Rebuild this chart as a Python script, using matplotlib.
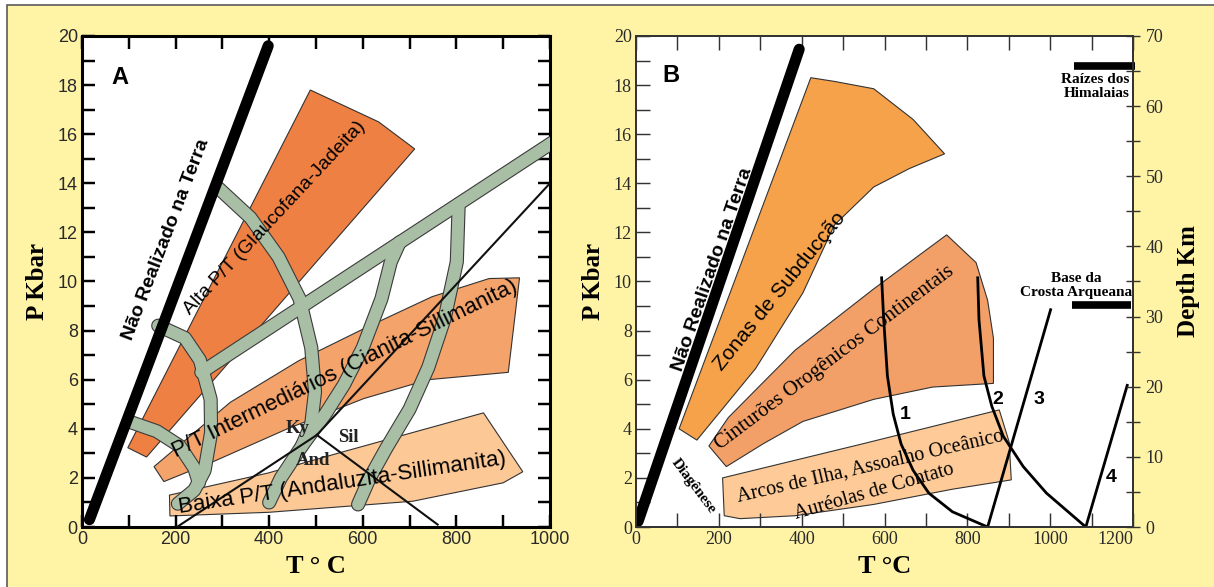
import matplotlib.pyplot as plt
from matplotlib.patches import Rectangle
from matplotlib.ticker import MultipleLocator

SANS = 'Liberation Sans'
SERIF = 'Liberation Serif'

# ---------------- painel A ----------------
limite_a_T = [16, 398]
limite_a_P = [0.3, 19.6]

alta_T = [98, 138, 711, 634, 561, 488]
alta_P = [3.23, 2.85, 15.4, 16.5, 17.15, 17.8]

inter_T = [154, 317, 463, 610, 748, 870, 935, 911, 740, 602, 439, 285, 175]
inter_P = [2.46, 5.08, 6.77, 8.15, 9.38, 10.12, 10.15, 6.3, 6.0, 5.23, 4.0, 2.7, 1.85]

baixa_T = [187, 188, 400, 707, 900, 942, 858, 764, 561, 398]
baixa_P = [1.3, 0.45, 0.6, 1.05, 1.8, 2.25, 4.65, 4.15, 3.08, 2.2]

# faixas verdes (isógradas)
diag_T = [255, 1010]
diag_P = [6.3, 15.72]
arco_alto_T = [289, 360, 420, 465, 490, 498, 490, 470]
arco_alto_P = [13.85, 12.6, 11.0, 9.3, 7.3, 5.5, 4.2, 3.3]
arco_medio_T = [163, 220, 252, 275, 276, 262, 240, 205]
arco_medio_P = [8.2, 7.7, 6.8, 5.2, 3.85, 2.3, 1.5, 0.95]
arco_baixo_T = [103, 160, 209, 240, 250]
arco_baixo_P = [4.28, 3.9, 3.3, 2.4, 1.8]
desc1_T = [679, 660, 640, 600, 560, 520, 470, 425, 400]
desc1_P = [11.6, 10.8, 9.3, 7.3, 5.8, 4.6, 3.3, 2.0, 1.0]
desc2_T = [805, 801, 775, 740, 700, 650, 615, 590]
desc2_P = [13.15, 10.8, 8.5, 6.5, 4.8, 3.2, 2.0, 0.92]

# ponto triplo Al2SiO5
ky_and_T = [203, 502]
ky_and_P = [0.0, 3.75]
ky_sil_T = [502, 1000]
ky_sil_P = [3.75, 14.0]
and_sil_T = [502, 760]
and_sil_P = [3.75, 0.1]

# ---------------- painel B ----------------
limite_b_T = [5, 394]
limite_b_P = [0.23, 19.46]

zonas_T = [104, 147, 289, 403, 479, 574, 660, 745, 669, 574, 479, 422]
zonas_P = [4.0, 3.54, 6.46, 9.54, 12.3, 13.85, 14.6, 15.2, 16.6, 17.85, 18.15, 18.3]

cint_T = [176, 218, 308, 403, 574, 716, 863, 863, 849, 821, 750, 574, 384, 223]
cint_P = [3.3, 2.46, 3.4, 4.3, 5.2, 5.7, 5.85, 7.69, 9.23, 10.77, 11.9, 9.7, 7.2, 4.46]

arcos_T = [209, 213, 251, 384, 574, 764, 906, 901, 877, 550]
arcos_P = [2.0, 0.46, 0.34, 0.46, 0.92, 1.54, 1.92, 3.46, 4.77, 3.4]

geo1_T = [593, 598, 607, 621, 640, 669, 707, 764, 849]
geo1_P = [10.15, 8.46, 6.15, 4.6, 3.38, 2.31, 1.38, 0.62, 0.0]
geo2_T = [825, 828, 840, 859, 887, 935, 991, 1086]
geo2_P = [10.15, 8.46, 6.15, 4.92, 3.69, 2.46, 1.38, 0.0]
geo3_T = [849, 1001]
geo3_P = [0.0, 8.85]
geo4_T = [1086, 1186]
geo4_P = [0.0, 5.77]

himalaia_T = [1058, 1205]
himalaia_P = [18.77, 18.77]
arqueana_T = [1053, 1195]
arqueana_P = [9.06, 9.06]


def estilo_eixo(ax, xmax, cor, lw_frame, fonte, tick_len):
    ax.set_xlim(0, xmax)
    ax.set_ylim(0, 20)
    ax.set_facecolor('white')
    ax.xaxis.set_major_locator(MultipleLocator(200))
    ax.xaxis.set_minor_locator(MultipleLocator(100))
    ax.yaxis.set_major_locator(MultipleLocator(2))
    ax.yaxis.set_minor_locator(MultipleLocator(1))
    for s in ax.spines.values():
        s.set_linewidth(lw_frame)
        s.set_color(cor)
    ax.tick_params(which='both', direction='in', length=tick_len, width=lw_frame * 0.8,
                   color=cor, labelsize=13, labelcolor='#2a2a2a', pad=3)
    for lab in ax.get_xticklabels() + ax.get_yticklabels():
        lab.set_family(fonte)


def faixas(ax, bandas):
    for T, P in bandas:
        ax.plot(T, P, color='#3a3a3a', lw=10.2, solid_capstyle='round', solid_joinstyle='round', zorder=3)
    for T, P in bandas:
        ax.plot(T, P, color='#A9BFA5', lw=8.6, solid_capstyle='round', solid_joinstyle='round', zorder=3.1)


fig = plt.figure(figsize=(12.14, 5.87), dpi=100)
fig.patch.set_facecolor('white')
fig.add_artist(Rectangle((0.0055, -0.05), 1.1, 1.0415, transform=fig.transFigure,
                         facecolor='#FFF4A6', edgecolor='#5a5a5a', lw=1.2, zorder=-10))

# ---------------- A ----------------
axA = fig.add_axes([0.0675, 0.1022, 0.3855, 0.8365])
estilo_eixo(axA, 1000, 'black', 2.2, SANS, 9)
axA.tick_params(which='both', top=True, right=True)

axA.fill(alta_T, alta_P, facecolor='#EF8043', edgecolor='#333333', lw=0.8, zorder=1)
axA.fill(inter_T, inter_P, facecolor='#F4A36B', edgecolor='#333333', lw=0.8, zorder=1)
axA.fill(baixa_T, baixa_P, facecolor='#FCC896', edgecolor='#333333', lw=0.8, zorder=1)

faixas(axA, [(diag_T, diag_P), (arco_alto_T, arco_alto_P), (arco_medio_T, arco_medio_P),
             (arco_baixo_T, arco_baixo_P), (desc1_T, desc1_P), (desc2_T, desc2_P)])

axA.plot(ky_and_T, ky_and_P, color='#111111', lw=1.5, zorder=4)
axA.plot(ky_sil_T, ky_sil_P, color='#111111', lw=1.5, zorder=4)
axA.plot(and_sil_T, and_sil_P, color='#111111', lw=1.5, zorder=4)
axA.plot(limite_a_T, limite_a_P, color='black', lw=8, solid_capstyle='round', zorder=5)

axA.text(81, 18.3, 'A', family=SANS, weight='bold', fontsize=17, ha='center', va='center')
axA.text(179, 11.7, 'Não Realizado na Terra', family=SANS, weight='bold', fontsize=14,
         rotation=69, rotation_mode='anchor', ha='center', va='center', zorder=6)
axA.text(411, 12.6, 'Alta P/T (Glaucofana-Jadeita)', family=SANS, fontsize=14,
         rotation=47, rotation_mode='anchor', ha='center', va='center', zorder=6)
axA.text(562, 6.45, 'P/T Intermediários (Cianita-Sillimanita)', family=SANS, fontsize=16,
         rotation=26, rotation_mode='anchor', ha='center', va='center', zorder=6)
axA.text(557, 1.8, 'Baixa P/T (Andaluzita-Sillimanita)', family=SANS, fontsize=16,
         rotation=8.5, rotation_mode='anchor', ha='center', va='center', zorder=6)
axA.text(460, 4.0, 'Ky', family=SERIF, weight='bold', fontsize=13.5, color='#222222',
         ha='center', va='center', zorder=6)
axA.text(570, 3.65, 'Sil', family=SERIF, weight='bold', fontsize=13.5, color='#222222',
         ha='center', va='center', zorder=6)
axA.text(494, 2.7, 'And', family=SERIF, weight='bold', fontsize=13.5, color='#222222',
         ha='center', va='center', zorder=6)

axA.set_xlabel('T ° C', family=SERIF, weight='bold', fontsize=19, labelpad=5)
axA.set_ylabel('P Kbar', family=SERIF, weight='bold', fontsize=18, labelpad=6)

# ---------------- B ----------------
axB = fig.add_axes([0.5239, 0.1022, 0.4094, 0.8365])
estilo_eixo(axB, 1200, '#333333', 1.3, SERIF, 10)
axB.tick_params(which='both', top=True, right=False)

axB.fill(zonas_T, zonas_P, facecolor='#F5A24B', edgecolor='#333333', lw=0.8, zorder=1)
axB.fill(cint_T, cint_P, facecolor='#F2A068', edgecolor='#333333', lw=0.8, zorder=1)
axB.fill(arcos_T, arcos_P, facecolor='#FDCA98', edgecolor='#333333', lw=0.8, zorder=1)

for T, P in [(geo1_T, geo1_P), (geo2_T, geo2_P), (geo3_T, geo3_P), (geo4_T, geo4_P)]:
    axB.plot(T, P, color='black', lw=2, zorder=4)
axB.plot(limite_b_T, limite_b_P, color='black', lw=8, solid_capstyle='round', zorder=5)
axB.plot(himalaia_T, himalaia_P, color='black', lw=5.5, solid_capstyle='butt', zorder=5, clip_on=False)
axB.plot(arqueana_T, arqueana_P, color='black', lw=5.5, solid_capstyle='butt', zorder=5)

axB.text(85, 18.4, 'B', family=SANS, weight='bold', fontsize=17, ha='center', va='center')
axB.text(185, 10.5, 'Não Realizado na Terra', family=SANS, weight='bold', fontsize=14,
         rotation=71, rotation_mode='anchor', ha='center', va='center', zorder=6)
axB.text(346, 9.6, 'Zonas de Subducção', family=SANS, fontsize=15,
         rotation=51, rotation_mode='anchor', ha='center', va='center', zorder=6)
axB.text(479, 6.9, 'Cinturões Orogênicos Continentais', family=SERIF, fontsize=15,
         rotation=37, rotation_mode='anchor', ha='center', va='center', zorder=6)
axB.text(565, 2.45, 'Arcos de Ilha, Assoalho Oceânico', family=SERIF, fontsize=14.5,
         rotation=13, rotation_mode='anchor', ha='center', va='center', zorder=6)
axB.text(574, 1.45, 'Auréolas de Contato', family=SERIF, fontsize=14.5,
         rotation=16, rotation_mode='anchor', ha='center', va='center', zorder=6)
axB.text(140, 1.65, 'Diagênese', family=SERIF, weight='bold', fontsize=11,
         rotation=-53, rotation_mode='anchor', ha='center', va='center', zorder=6)
for lab, T, P in [('1', 650, 4.6), ('2', 873, 5.2), ('3', 972, 5.2), ('4', 1148, 2.0)]:
    axB.text(T, P, lab, family=SANS, weight='bold', fontsize=14, ha='center', va='center', zorder=6)
axB.text(1192, 17.95, 'Raízes dos\nHimalaias', family=SERIF, weight='bold', fontsize=11,
         ha='right', va='center', linespacing=1.1, zorder=6)
axB.text(1063, 9.85, 'Base da\nCrosta Arqueana', family=SERIF, weight='bold', fontsize=11,
         ha='center', va='center', linespacing=1.1, zorder=6)

axB.set_xlabel('T °C', family=SERIF, weight='bold', fontsize=19, labelpad=5)
axB.set_ylabel('P Kbar', family=SERIF, weight='bold', fontsize=18, labelpad=6)

axD = axB.twinx()
axD.set_ylim(0, 70)
axD.yaxis.set_major_locator(MultipleLocator(10))
axD.yaxis.set_minor_locator(MultipleLocator(5))
axD.tick_params(which='both', direction='inout', length=10, width=1.0, color='#333333',
                labelsize=13, labelcolor='#2a2a2a', pad=4)
for lab in axD.get_yticklabels():
    lab.set_family(SERIF)
for s in axD.spines.values():
    s.set_linewidth(1.3)
    s.set_color('#333333')
axD.set_ylabel('Depth Km', family=SERIF, weight='bold', fontsize=18, labelpad=10)

# o rótulo 1200 fica à esquerda do tick, como no original
fig.canvas.draw()
for t in axB.xaxis.get_major_ticks():
    if t.label1.get_text() == '1200':
        t.label1.set_horizontalalignment('right')

fig.savefig('out.png', dpi=100)
